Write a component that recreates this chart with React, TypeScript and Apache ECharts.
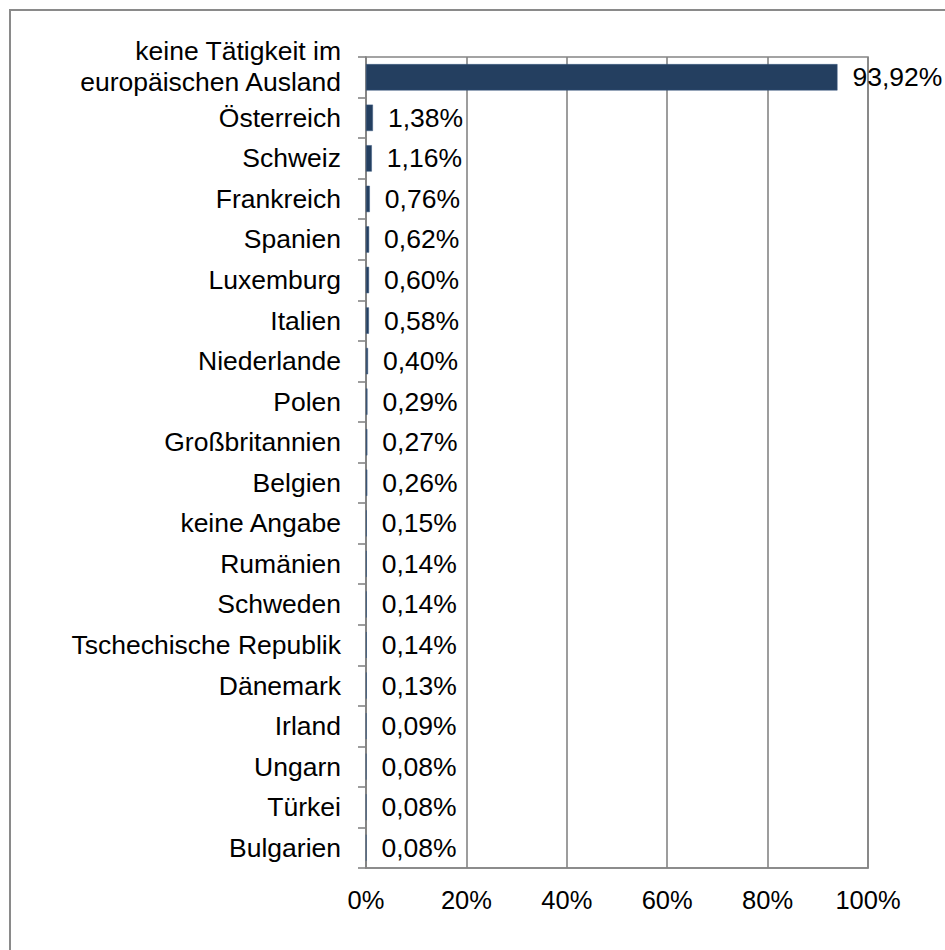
import React, { useEffect, useRef } from "react";
import * as echarts from "echarts";

const categories = [
  "keine Tätigkeit im\neuropäischen Ausland",
  "Österreich",
  "Schweiz",
  "Frankreich",
  "Spanien",
  "Luxemburg",
  "Italien",
  "Niederlande",
  "Polen",
  "Großbritannien",
  "Belgien",
  "keine Angabe",
  "Rumänien",
  "Schweden",
  "Tschechische Republik",
  "Dänemark",
  "Irland",
  "Ungarn",
  "Türkei",
  "Bulgarien",
];

const values = [
  93.92, 1.38, 1.16, 0.76, 0.62, 0.6, 0.58, 0.4, 0.29, 0.27, 0.26, 0.15, 0.14,
  0.14, 0.14, 0.13, 0.09, 0.08, 0.08, 0.08,
];

const xTicks = [0, 20, 40, 60, 80, 100];

const FONT = "Liberation Sans, Arial, sans-serif";
const GRAY = "#858585";
const LW = 1.6;

export default function App() {
  const ref = useRef<HTMLDivElement>(null);

  useEffect(() => {
    if (!ref.current) return;
    const chart = echarts.init(ref.current, null, { renderer: "svg" });
    chart.setOption({
      animation: false,
      backgroundColor: "#ffffff",
      textStyle: { fontFamily: FONT },
      graphic: [
        {
          type: "rect",
          shape: { x: 10, y: 10, width: 1000, height: 1000 },
          style: { fill: "none", stroke: "#8a8a8a", lineWidth: 2 },
          silent: true,
        },
      ],
      grid: {
        left: 366,
        right: 77,
        top: 57,
        bottom: 82,
        show: true,
        borderColor: GRAY,
        borderWidth: LW,
        containLabel: false,
      },
      xAxis: {
        type: "value",
        min: xTicks[0],
        max: xTicks[xTicks.length - 1],
        interval: 20,
        axisLine: { show: true, lineStyle: { color: GRAY, width: LW } },
        axisTick: { show: false },
        splitLine: { show: true, lineStyle: { color: GRAY, width: LW } },
        axisLabel: {
          formatter: (v: number) => v + "%",
          fontSize: 25.5,
          color: "#000",
          fontFamily: FONT,
          margin: 19,
        },
      },
      yAxis: {
        type: "category",
        inverse: true,
        data: categories,
        axisLine: { show: true, lineStyle: { color: GRAY, width: LW } },
        axisTick: {
          show: true,
          length: 8,
          alignWithLabel: false,
          interval: 0,
          lineStyle: { color: GRAY, width: LW },
        },
        splitLine: { show: false },
        axisLabel: {
          interval: 0,
          hideOverlap: false,
          fontSize: 26.5,
          color: "#000",
          fontFamily: FONT,
          margin: 25,
          formatter: (v: string) => {
            if (v.indexOf("\n") >= 0) {
              const parts = v.split("\n");
              return `{t|${parts[0]}}\n{t|${parts[1]}}\n{s| }`;
            }
            return v;
          },
          rich: {
            t: { fontSize: 26.5, lineHeight: 30.5, color: "#000", fontFamily: FONT },
            s: { fontSize: 10, lineHeight: 22 },
          },
        },
      },
      series: [
        {
          type: "bar",
          data: values,
          barWidth: "65%",
          itemStyle: { color: "#243F60", borderColor: "#3A5A80", borderWidth: 0.5 },
          label: {
            show: true,
            position: "right",
            distance: 15,
            fontSize: 26.5,
            color: "#000",
            fontFamily: FONT,
            formatter: (p: any) => p.value.toFixed(2).replace(".", ",") + "%",
          },
        },
      ],
    });
    return () => chart.dispose();
  }, []);

  return (
    <div
      ref={ref}
      style={{ position: "fixed", left: 0, top: 0, width: 945, height: 950 }}
    />
  );
}
